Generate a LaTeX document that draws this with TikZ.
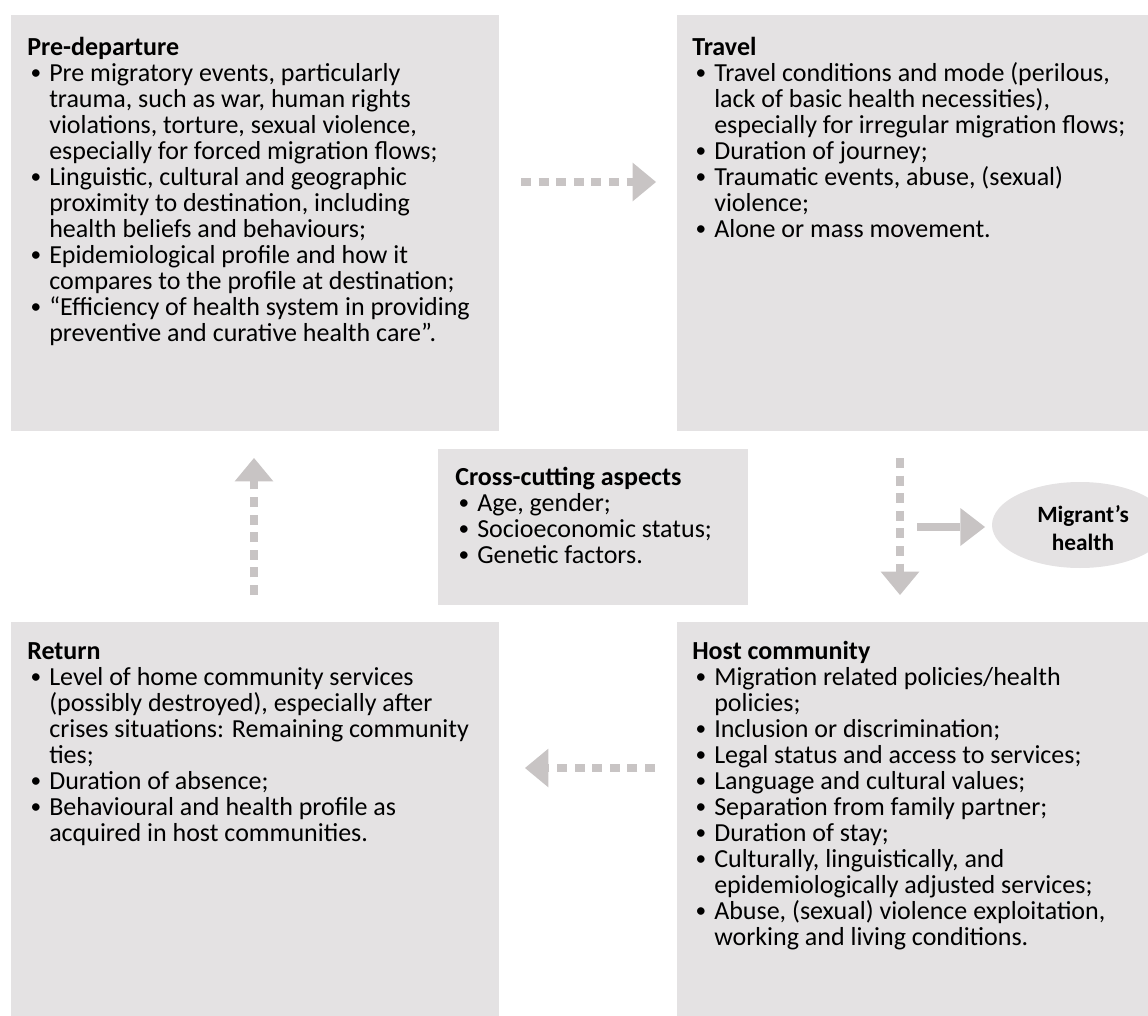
\documentclass[tikz,border=0pt]{standalone}
\usepackage{fontspec}
\usepackage{graphicx}
\setmainfont{Carlito}
\usetikzlibrary{arrows.meta,shapes.geometric}
\definecolor{boxgray}{HTML}{E4E2E3}
\definecolor{arrgray}{HTML}{C8C4C4}
\newcommand{\bl}{\makebox[16.5pt][l]{\hspace{2.6pt}\raisebox{0.15ex}{\scalebox{0.82}{\textbullet}}}}
\newcommand{\ind}{\hspace*{16.5pt}}
\begin{document}
\begin{tikzpicture}[x=0.75pt,y=-0.75pt,
  panel/.style={fill=boxgray},
  txt/.style={anchor=base west, inner sep=0pt, align=left, font=\fontsize{19.5}{19.55}\selectfont},
  dasharrow/.style={draw=arrgray, line width=6pt, dash pattern=on 7.5pt off 5.7pt,
     -{Triangle[length=17.5pt,width=29pt,line width=0pt]}},
  solidarrow/.style={draw=arrgray, line width=6pt,
     -{Triangle[length=18.5pt,width=28.5pt,line width=0pt]}}]
\useasboundingbox (0,0) rectangle (1148,1016);
% panels
\path[panel] (11,15) rectangle (499,431);
\path[panel] (677,15) rectangle (1148,431);
\path[panel] (438,449) rectangle (748,605);
\path[panel] (11,622) rectangle (499,1016);
\path[panel] (677,622) rectangle (1148,1016);
\node[ellipse, fill=boxgray, inner sep=0pt, minimum width=132pt, minimum height=64.5pt] (mhshape) at (1080,525) {};
% texts (anchored at the baseline of their last line)
\node[txt] (pre) at (27,341.8) {\textbf{Pre-departure}\\
\bl Pre migratory events, particularly\\
\ind trauma, such as war, human rights\\
\ind violations, torture, sexual violence,\\
\ind especially for forced migration flows;\\
\bl Linguistic, cultural and geographic\\
\ind proximity to destination, including\\
\ind health beliefs and behaviours;\\
\bl Epidemiological profile and how it\\
\ind compares to the profile at destination;\\
\bl “Efficiency of health system in providing\\
\ind preventive and curative health care”.};
\node[txt] (travel) at (692,237.5) {\textbf{Travel}\\
\bl Travel conditions and mode (perilous,\\
\ind lack of basic health necessities),\\
\ind especially for irregular migration flows;\\
\bl Duration of journey;\\
\bl Traumatic events, abuse, (sexual)\\
\ind violence;\\
\bl Alone or mass movement.};
\node[txt] (cross) at (455,563.5) {\textbf{Cross-cutting aspects}\\
\bl Age, gender;\\
\bl Socioeconomic status;\\
\bl Genetic factors.};
\node[txt] (return) at (27,841.5) {\textbf{Return}\\
\bl Level of home community services\\
\ind (possibly destroyed), especially after\\
\ind crises situations: Remaining community\\
\ind ties;\\
\bl Duration of absence;\\
\bl Behavioural and health profile as\\
\ind acquired in host communities.};
\node[txt] (host) at (692,945.8) {\textbf{Host community}\\
\bl Migration related policies/health\\
\ind policies;\\
\bl Inclusion or discrimination;\\
\bl Legal status and access to services;\\
\bl Language and cultural values;\\
\bl Separation from family partner;\\
\bl Duration of stay;\\
\bl Culturally, linguistically, and\\
\ind epidemiologically adjusted services;\\
\bl Abuse, (sexual) violence exploitation,\\
\ind working and living conditions.};
\node[inner sep=0pt, align=center, font=\fontsize{17.5}{21}\selectfont\bfseries] (mh) at (1083,528) {Migrant’s\\health};
% arrow end points
\coordinate (a1s) at (521,182);  \coordinate (a1e) at (656,182);
\coordinate (a2s) at (900,458);  \coordinate (a2e) at (900,595);
\coordinate (a3s) at (917,527);  \coordinate (a3e) at (985,527);
\coordinate (a4s) at (254,595);  \coordinate (a4e) at (254,458);
\coordinate (a5s) at (655,768);  \coordinate (a5e) at (525,768);
\draw[dasharrow] (a1s) -- (a1e);
\draw[dasharrow] (a2s) -- (a2e);
\draw[solidarrow] (a3s) -- (a3e);
\draw[dasharrow] (a4s) -- (a4e);
\draw[dasharrow] (a5s) -- (a5e);
\end{tikzpicture}
\end{document}
